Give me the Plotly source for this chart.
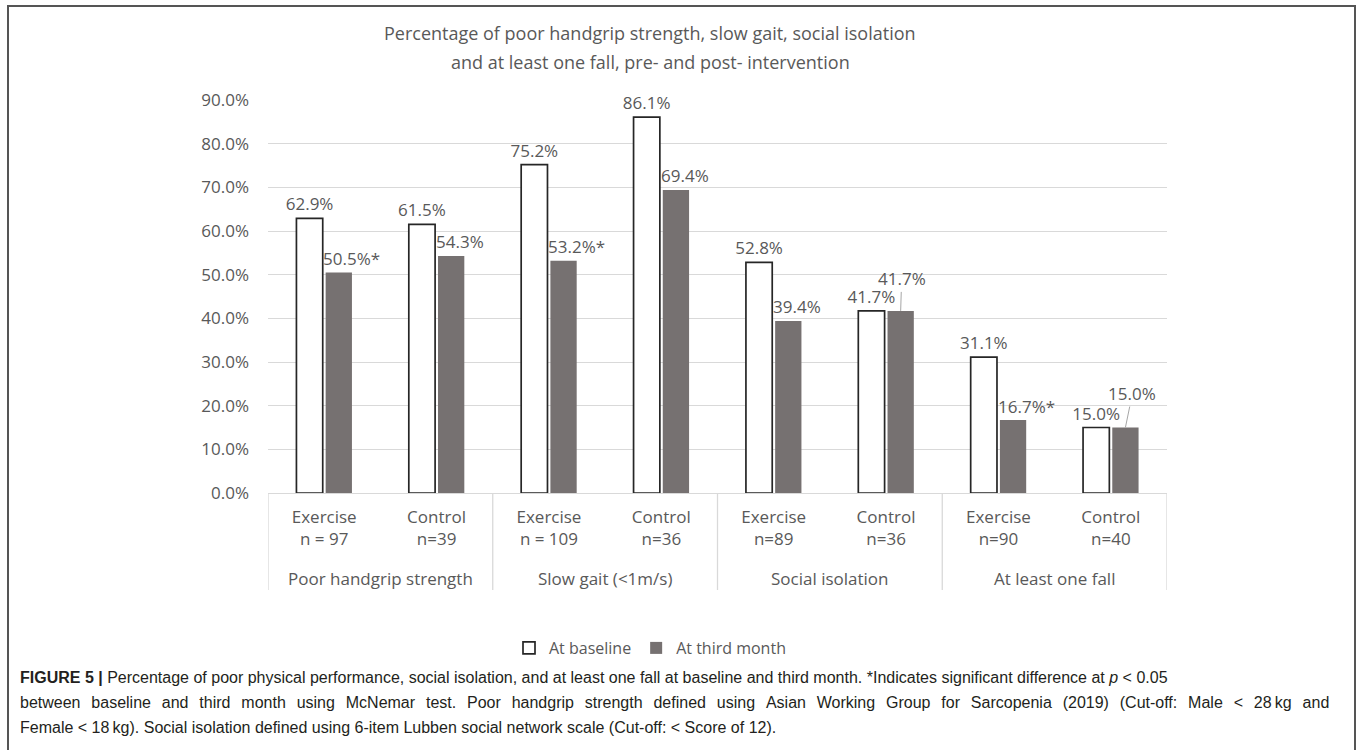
import plotly.graph_objects as go

# ---------------- data ----------------
groups = ["Poor handgrip strength", "Slow gait (<1m/s)", "Social isolation", "At least one fall"]
subgroups = ["Exercise<br>n = 97", "Control<br>n=39",
             "Exercise<br>n = 109", "Control<br>n=36",
             "Exercise<br>n=89", "Control<br>n=36",
             "Exercise<br>n=90", "Control<br>n=40"]
baseline = [62.9, 61.5, 75.2, 86.1, 52.8, 41.7, 31.1, 15.0]
third_month = [50.5, 54.3, 53.2, 69.4, 39.4, 41.7, 16.7, 15.0]
significant = [True, False, True, False, False, False, True, False]
moved_label = [False, False, False, False, False, True, False, True]   # labels lifted with a leader line
series_names = ["At baseline", "At third month"]
y_ticks = [0, 10, 20, 30, 40, 50, 60, 70, 80, 90]

title_lines = ["Percentage of poor handgrip strength, slow gait, social isolation",
               "and at least one fall, pre- and post- intervention"]
caption_lines = [
    "<b>FIGURE 5 |</b> Percentage of poor physical performance, social isolation, and at least one fall at baseline and third month. *Indicates significant difference at <i>p</i> &lt; 0.05",
    "between baseline and third month using McNemar test. Poor handgrip strength defined using Asian Working Group for Sarcopenia (2019) (Cut-off: Male &lt; 28\u2009kg and",
    "Female &lt; 18\u2009kg). Social isolation defined using 6-item Lubben social network scale (Cut-off: &lt; Score of 12).",
]
caption_justify = [False, True, False]

# ---------------- layout constants ----------------
W, H = 1357, 750
L, R, T, B = 268, 1167, 100, 493
BARGAP, BARGROUPGAP = 0.48, 0.10
TXT = "#595959"
GRID = "#d9d9d9"
FONT = "Open Sans, Lato, sans-serif"
CENTER_X = 650


def px_x(p):
    return (p - L) / (R - L)


def px_y(p):
    return (B - p) / (B - T)


n = len(subgroups)
xs = list(range(n))
per_group = n // len(groups)


def fmt(v):
    return f"{v:.1f}%"


fig = go.Figure()
fig.add_trace(go.Bar(
    x=xs, y=baseline, name=series_names[0],
    marker=dict(color="white", line=dict(color="#262626", width=1.7)),
    text=[fmt(v) for v in baseline], textposition="outside", constraintext="none", cliponaxis=False,
    textfont=dict(size=17, color=TXT, family=FONT),
))
fig.add_trace(go.Bar(
    x=xs, y=third_month, name=series_names[1],
    marker=dict(color="#767171", line=dict(width=0)),
))

annotations = []
shapes = []

# third-month labels (Excel-style, nudged right), lifted ones with leader lines
offset = (1 - BARGAP) / 4
lift = {5: (1, -32), 7: (7, -34)}
for i, (v, s, m) in enumerate(zip(third_month, significant, moved_label)):
    if m:
        ax_, ay_ = lift.get(i, (0, -32))
        annotations.append(dict(
            x=i + offset, y=v, xref="x", yref="y", text=fmt(v),
            showarrow=True, arrowhead=0, arrowwidth=1, arrowcolor="#a6a6a6",
            ax=ax_, ay=ay_, standoff=0, startstandoff=0,
            font=dict(size=17, color=TXT, family=FONT),
        ))
    else:
        annotations.append(dict(
            x=i + offset, y=v, xref="x", yref="y", text=fmt(v) + ("*" if s else ""),
            showarrow=False, xanchor="center", yanchor="middle",
            xshift=13 if s else 9, yshift=14,
            font=dict(size=17, color=TXT, family=FONT),
        ))

# group labels and dividers
for g, name in enumerate(groups):
    center = g * per_group + (per_group - 1) / 2
    annotations.append(dict(
        x=center, y=px_y(578), xref="x", yref="paper", text=name, showarrow=False,
        font=dict(size=17, color=TXT, family=FONT), yanchor="middle",
    ))
for k in range(len(groups) + 1):
    xv = k * per_group - 0.5
    shapes.append(dict(type="line", xref="x", yref="paper", x0=xv, x1=xv,
                       y0=0, y1=px_y(590), line=dict(color=GRID, width=1.3)))

# title
for line, yc in zip(title_lines, [33, 62]):
    annotations.append(dict(
        x=px_x(CENTER_X), y=px_y(yc), xref="paper", yref="paper", text=line, showarrow=False,
        font=dict(size=18, color=TXT, family=FONT), xanchor="center", yanchor="middle",
    ))

# caption (line 2 padded to look justified like the source)
for line, yc, just in zip(caption_lines, [677, 702, 727], caption_justify):
    if just:
        line = line.replace(" ", " \u2009\u2009")
    annotations.append(dict(
        x=px_x(18), y=px_y(yc), xref="paper", yref="paper", text=line, showarrow=False,
        font=dict(size=16, color="#231f20", family="Liberation Sans, Arial, sans-serif"),
        xanchor="left", yanchor="middle",
    ))

# outer frame
shapes.append(dict(type="rect", xref="paper", yref="paper",
                   x0=px_x(8), x1=px_x(1355), y0=px_y(6), y1=px_y(760),
                   line=dict(color="#555555", width=2), fillcolor="rgba(0,0,0,0)", layer="below"))

fig.update_layout(
    width=W, height=H,
    margin=dict(l=L, r=W - R, t=T, b=H - B, pad=0),
    paper_bgcolor="white", plot_bgcolor="white",
    barmode="group", bargap=BARGAP, bargroupgap=BARGROUPGAP,
    font=dict(family=FONT, color=TXT, size=17),
    showlegend=True,
    legend=dict(orientation="h", x=px_x(CENTER_X), xanchor="center", y=px_y(648), yanchor="middle",
                font=dict(size=16, color=TXT, family=FONT), itemwidth=30, traceorder="normal"),
    annotations=annotations, shapes=shapes,
)
fig.update_xaxes(
    range=[-0.5, n - 0.5], tickmode="array", tickvals=xs, ticktext=subgroups,
    showgrid=False, zeroline=False, showline=True, linecolor=GRID, linewidth=1.3,
    ticks="", tickfont=dict(size=17, color=TXT, family=FONT), ticklabelstandoff=8,
)
fig.update_yaxes(
    range=[0, 90], tickmode="array", tickvals=y_ticks, ticktext=[f"{t:.1f}%" for t in y_ticks],
    showgrid=True, gridcolor=GRID, gridwidth=1.3, zeroline=False, showline=False,
    ticks="", tickfont=dict(size=17, color=TXT, family=FONT), ticklabelstandoff=18,
)

fig.write_html("out.html")
